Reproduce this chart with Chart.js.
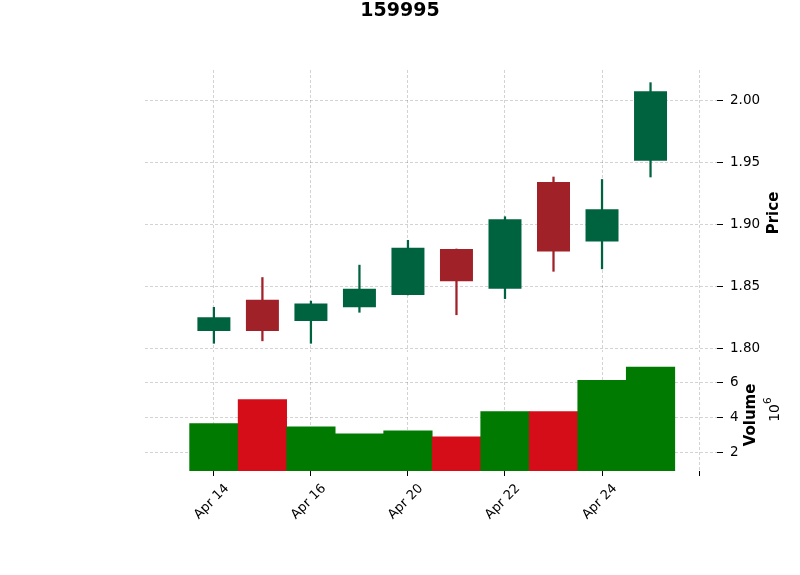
<!DOCTYPE html>
<html>
<head>
<meta charset="utf-8">
<script src="https://cdn.jsdelivr.net/npm/chart.js@4.4.1/dist/chart.umd.min.js"></script>
<style>
  body { margin: 0; background: #fff; }
  #wrap { position: relative; width: 800px; height: 575px; }
  canvas { position: absolute; left: 0; }
</style>
</head>
<body>
<div id="wrap">
  <canvas id="priceChart" width="800" height="353" style="top:0"></canvas>
  <canvas id="volChart" width="800" height="222" style="top:353px"></canvas>
</div>
<script>
const title = '159995';
const dates = ['Apr 14', 'Apr 15', 'Apr 16', 'Apr 17', 'Apr 20', 'Apr 21', 'Apr 22', 'Apr 23', 'Apr 24', 'Apr 25'];
const opens  = [1.814, 1.839, 1.822, 1.833, 1.843, 1.880, 1.848, 1.934, 1.886, 1.951];
const highs  = [1.833, 1.857, 1.838, 1.867, 1.887, 1.880, 1.906, 1.938, 1.936, 2.014];
const lows   = [1.804, 1.806, 1.804, 1.829, 1.843, 1.827, 1.840, 1.862, 1.864, 1.938];
const closes = [1.825, 1.814, 1.836, 1.848, 1.881, 1.854, 1.904, 1.878, 1.912, 2.007];
const volumes = [3620000, 5000000, 3440000, 3040000, 3210000, 2870000, 4310000, 4310000, 6100000, 6850000];
const priceTicks = [1.80, 1.85, 1.90, 1.95, 2.00];
const volumeTicks = [2000000, 4000000, 6000000];
const dateTicks = [0, 2, 4, 6, 8, 10];

const FONT = 'DejaVu Sans';
const upColor = '#006340', downColor = '#a02128';
const volUp = '#007a00', volDown = '#d50d18';
const isUp = closes.map((c, i) => c >= opens[i]);
const candleColors = isUp.map(u => u ? upColor : downColor);
const volColors = isUp.map(u => u ? volUp : volDown);

const X_MIN = -1.42, X_MAX = 10.37;

const grid = {
  color: 'rgba(0,0,0,0.25)',
  lineWidth: 0.7,
  tickColor: '#000',
  tickWidth: 1,
  tickLength: 6,
  tickBorderDash: []
};
const border = { display: false, dash: [3, 2] };

function drawText(ctx, text, x, y, font, rot) {
  ctx.save();
  ctx.translate(x, y);
  ctx.rotate(rot || 0);
  ctx.font = font;
  ctx.fillStyle = '#000';
  ctx.textAlign = 'center';
  ctx.textBaseline = 'middle';
  ctx.fillText(text, 0, 0);
  ctx.restore();
}

// drop the label padding chart.js reserves, so the layout padding alone sets the plot box
function noPad(s) {
  s.paddingTop = 0; s.paddingBottom = 0; s.paddingLeft = 0; s.paddingRight = 0;
}

const xAxis = (showLabels) => ({
  type: 'linear',
  min: X_MIN,
  max: X_MAX,
  offset: false,
  grid: Object.assign({}, grid, { offset: false, drawTicks: showLabels, tickLength: 5 }),
  border: border,
  afterBuildTicks: s => { s.ticks = dateTicks.map(v => ({ value: v })); },
  afterFit: s => { s.height = showLabels ? 104 : 0; noPad(s); },
  ticks: {
    display: showLabels,
    autoSkip: false,
    maxRotation: 45,
    minRotation: 45,
    labelOffset: 13,
    padding: 5,
    color: '#000',
    font: { family: FONT, size: 13 },
    callback: v => dates[v] || ''
  }
});

const yAxis = (min, max, ticks, fmt) => ({
  position: 'right',
  min: min,
  max: max,
  grid: grid,
  border: border,
  afterBuildTicks: s => { s.ticks = ticks.map(v => ({ value: v })); },
  afterFit: s => { s.width = 83; noPad(s); },
  ticks: {
    padding: 7,
    color: '#000',
    font: { family: FONT, size: 13.5 },
    callback: fmt
  }
});

new Chart(document.getElementById('priceChart'), {
  type: 'bar',
  data: {
    datasets: [{
      data: opens.map((o, i) => ({ x: i, y: [o, closes[i]] })),
      backgroundColor: candleColors,
      grouped: false,
      barPercentage: 0.68,
      categoryPercentage: 1
    }, {
      data: lows.map((l, i) => ({ x: i, y: [l, highs[i]] })),
      backgroundColor: candleColors,
      grouped: false,
      barThickness: 1.6
    }]
  },
  options: {
    responsive: false,
    animation: false,
    layout: { padding: { left: 145, top: 70, right: 0, bottom: 1 } },
    plugins: { legend: { display: false }, tooltip: { enabled: false } },
    scales: {
      x: xAxis(false),
      y: yAxis(1.797, 2.0242, priceTicks, v => v.toFixed(2))
    }
  },
  plugins: [{
    id: 'labels',
    afterDraw(chart) {
      const ctx = chart.ctx;
      drawText(ctx, title, 400, 11, 'bold 19px ' + FONT);
      drawText(ctx, 'Price', 774, 213, 'bold 15px ' + FONT, -Math.PI / 2);
    }
  }]
});

new Chart(document.getElementById('volChart'), {
  type: 'bar',
  data: {
    datasets: [{
      data: volumes.map((v, i) => ({ x: i, y: v })),
      backgroundColor: volColors,
      barPercentage: 1,
      categoryPercentage: 1
    }]
  },
  options: {
    responsive: false,
    animation: false,
    layout: { padding: { left: 145, top: 4, right: 0, bottom: 0 } },
    plugins: { legend: { display: false }, tooltip: { enabled: false } },
    scales: {
      x: xAxis(true),
      y: yAxis(914000, 7430000, volumeTicks, v => String(Math.round(v / 1e6)))
    }
  },
  plugins: [{
    id: 'labels',
    afterDraw(chart) {
      const ctx = chart.ctx;
      drawText(ctx, 'Volume', 751, 62, 'bold 15px ' + FONT, -Math.PI / 2);
      ctx.save();
      ctx.translate(774, 56);
      ctx.rotate(-Math.PI / 2);
      ctx.fillStyle = '#000';
      ctx.textBaseline = 'middle';
      ctx.textAlign = 'right';
      ctx.font = '14px ' + FONT;
      ctx.fillText('10', 5, 1);
      ctx.textAlign = 'left';
      ctx.font = '10.5px ' + FONT;
      ctx.fillText('6', 5, -6);
      ctx.restore();
    }
  }]
});
</script>
</body>
</html>
